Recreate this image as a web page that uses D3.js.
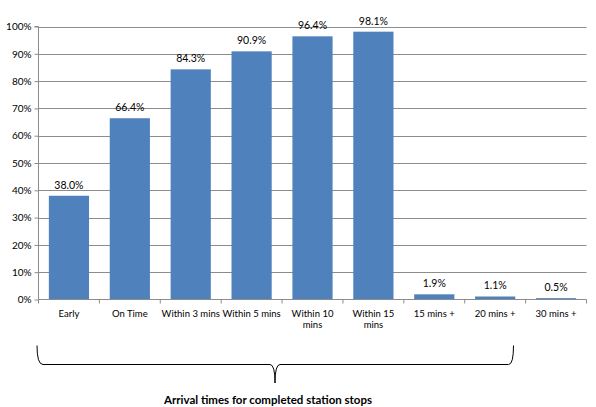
<!DOCTYPE html>
<html><head><meta charset="utf-8">
<script src="https://cdn.jsdelivr.net/npm/d3@7"></script>
<style>body{margin:0;background:#fff}svg{display:block}text{font-family:Lato,"Open Sans",sans-serif}</style>
</head><body><svg id="c" width="596" height="407"></svg>
<script>
const categories = ["Early","On Time","Within 3 mins","Within 5 mins","Within 10 mins","Within 15 mins","15 mins +","20 mins +","30 mins +"];
const categoryLines = [["Early"],["On Time"],["Within 3 mins"],["Within 5 mins"],["Within 10","mins"],["Within 15","mins"],["15 mins +"],["20 mins +"],["30 mins +"]];
const values = [38.0,66.4,84.3,90.9,96.4,98.1,1.9,1.1,0.5];
const yTicks = [0,10,20,30,40,50,60,70,80,90,100];
const xTitle = "Arrival times for completed station stops";

const svg = d3.select("#c");
const L=38.5, R=586.5, T=26.5, B=299.5;
const x = d3.scaleBand().domain(categories).range([L,R]).paddingInner(0.34).paddingOuter(0.17);
const y = d3.scaleLinear().domain([0,100]).range([B,T]);

// gridlines
svg.append("g").selectAll("line").data(yTicks.filter(d=>d>0)).join("line")
  .attr("x1",L).attr("x2",R).attr("y1",d=>Math.round(y(d))+0.5).attr("y2",d=>Math.round(y(d))+0.5)
  .attr("stroke","#8c8c8c").attr("stroke-width",1);

// y axis
const ya = svg.append("g").attr("transform",`translate(${L},0)`)
  .call(d3.axisLeft(y).tickValues(yTicks).tickFormat(d=>d+"%").tickSize(4).tickPadding(3));
ya.select(".domain").attr("stroke","#8c8c8c").attr("d",`M-4,${T}H0V${B}`);
ya.selectAll(".tick line").attr("stroke","#8c8c8c");
ya.selectAll(".tick text").attr("font-size",10).attr("fill","#000").attr("font-family","Lato,sans-serif");

// bars
svg.append("g").selectAll("rect").data(values).join("rect")
  .attr("x",(d,i)=>x(categories[i])).attr("width",x.bandwidth())
  .attr("y",d=>y(d)).attr("height",d=>B-y(d)).attr("fill","#4f81bd");

// x axis
const xStep = x.step();
const xa = svg.append("g").attr("transform",`translate(0,${B})`);
xa.append("line").attr("x1",L).attr("x2",R).attr("stroke","#8c8c8c");
xa.selectAll("line.t").data(d3.range(categories.length+1)).join("line").attr("class","t")
  .attr("x1",i=>L+i*xStep).attr("x2",i=>L+i*xStep).attr("y1",0).attr("y2",4).attr("stroke","#8c8c8c");
xa.selectAll("text").data(categoryLines).join("text")
  .attr("x",(d,i)=>x(categories[i])+x.bandwidth()/2).attr("y",17)
  .attr("text-anchor","middle").attr("font-size",9.5).attr("fill","#000")
  .each(function(d){const t=d3.select(this);d.forEach((s,k)=>t.append("tspan").attr("x",t.attr("x")).attr("dy",k?11.5:0).text(s));});

// value labels
svg.append("g").selectAll("text").data(values).join("text")
  .attr("x",(d,i)=>x(categories[i])+x.bandwidth()/2).attr("y",d=>y(d)-7)
  .attr("text-anchor","middle").attr("font-size",10.5).attr("fill","#000")
  .text(d=>d.toFixed(1)+"%");

// bracket
const bx0=37, bx1=513.5, by0=345.5, by1=364.5, bmid=275, btip=383;
svg.append("path").attr("fill","none").attr("stroke","#000").attr("stroke-width",1)
  .attr("d",`M${bx0},${by0} Q${bx0},${by1} ${bx0+6},${by1} H${bmid-5} Q${bmid},${by1} ${bmid},${btip} Q${bmid},${by1} ${bmid+5},${by1} H${bx1-5} Q${bx1},${by1} ${bx1},${by0}`);

svg.append("text").attr("x",268).attr("y",404).attr("text-anchor","middle")
  .attr("font-size",11.5).attr("font-weight","bold").attr("fill","#000").text(xTitle);
</script></body></html>
